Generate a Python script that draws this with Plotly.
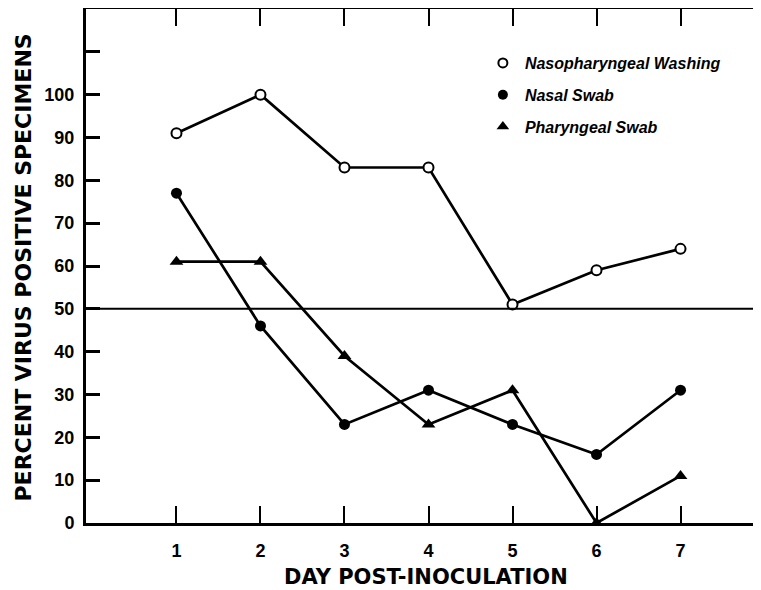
import plotly.graph_objects as go

# ---- data ----
days = [1, 2, 3, 4, 5, 6, 7]
nasopharyngeal_washing = [91, 100, 83, 83, 51, 59, 64]
nasal_swab = [77, 46, 23, 31, 23, 16, 31]
pharyngeal_swab = [61, 61, 39, 23, 31, 0, 11]
series_names = ["Nasopharyngeal Washing", "Nasal Swab", "Pharyngeal Swab"]
x_tick_labels = ["1", "2", "3", "4", "5", "6", "7"]
y_tick_values = [0, 10, 20, 30, 40, 50, 60, 70, 80, 90, 100, 110, 120]
y_tick_labels = ["0", "10", "20", "30", "40", "50", "60", "70", "80", "90", "100", "", ""]
right_tick_values = [10, 20, 30, 40, 50, 60, 70, 80, 90, 100, 110]
reference_level = 50
x_title = "DAY POST-INOCULATION"
y_title = "PERCENT VIRUS POSITIVE SPECIMENS"

# the page body adds an 8px margin, so the figure is sized / placed to compensate
OFF = 8
W, H = 761 - OFF, 590 - OFF
L, R, T = 86 - OFF, 0, 9 - OFF
BOTTOM = 523 - OFF
B = H - BOTTOM
X_RANGE = [-0.077, 7.958]
Y_RANGE = [0, 120]
PW, PH = W - L - R, H - T - B

LINE_W = 2.7
series = [
    (nasopharyngeal_washing, dict(symbol="circle", size=10, color="white",
                                  line=dict(color="black", width=2))),
    (nasal_swab, dict(symbol="circle", size=11, color="black",
                      line=dict(color="black", width=0))),
    (pharyngeal_swab, dict(symbol="triangle-up", size=12, color="black",
                           line=dict(color="black", width=0))),
]

fig = go.Figure()
for i, (vals, mk) in enumerate(series):
    fig.add_trace(go.Scatter(
        x=days, y=vals, mode="lines+markers",
        line=dict(color="black", width=LINE_W),
        marker=mk, showlegend=False, cliponaxis=False,
        name=series_names[i],
    ))
# legend-only entries (marker only, as in the reference)
legend_markers = [
    dict(symbol="circle", size=9, color="white", line=dict(color="black", width=2)),
    dict(symbol="circle", size=10, color="black", line=dict(width=0)),
    dict(symbol="triangle-up", size=11, color="black", line=dict(width=0)),
]
for i, mk in enumerate(legend_markers):
    fig.add_trace(go.Scatter(
        x=[None], y=[None], mode="markers", marker=mk,
        name=series_names[i], legendgroup=f"g{i}", showlegend=True,
    ))

fig.add_shape(type="line", xref="paper", yref="y", x0=0, x1=1,
              y0=reference_level, y1=reference_level,
              line=dict(color="black", width=2))

tick_font = dict(family="Liberation Sans", size=18, color="black", weight="bold")
xtitle_font = dict(family="DejaVu Sans", size=21, color="black", weight="bold")
ytitle_font = dict(family="DejaVu Sans", size=22, color="black", weight="bold")

fig.update_layout(
    width=W, height=H,
    margin=dict(l=L, r=R, t=T, b=B, pad=0),
    paper_bgcolor="white", plot_bgcolor="white",
    showlegend=True,
    legend=dict(
        x=0.585, y=0.928, xanchor="left", yanchor="top",
        font=dict(family="Liberation Sans", size=16, color="black",
                  style="italic", weight="bold"),
        bgcolor="rgba(0,0,0,0)", tracegroupgap=8, itemwidth=34,
    ),
    xaxis=dict(
        range=X_RANGE, tickvals=days, ticktext=x_tick_labels,
        ticks="inside", ticklen=17, tickwidth=2, tickcolor="black",
        showline=True, linewidth=2.5, linecolor="black", mirror="ticks",
        showgrid=False, zeroline=False, tickfont=tick_font,
        ticklabelstandoff=10, automargin=False,
    ),
    yaxis=dict(
        range=Y_RANGE, tickvals=y_tick_values, ticktext=y_tick_labels,
        ticks="inside", ticklen=14, tickwidth=2.5, tickcolor="black",
        showline=True, linewidth=3, linecolor="black",
        showgrid=False, zeroline=False, tickfont=tick_font,
        ticklabelstandoff=5, automargin=False,
    ),
    yaxis2=dict(
        range=Y_RANGE, overlaying="y", side="right", anchor="x",
        tickvals=right_tick_values, showticklabels=False,
        ticks="inside", ticklen=9, tickwidth=2.5, tickcolor="black",
        showline=False, showgrid=False, zeroline=False, automargin=False,
    ),
    annotations=[
        dict(text=x_title, xref="paper", yref="paper",
             x=(426 - OFF - L) / PW, y=(523 - 577) / PH,
             xanchor="center", yanchor="middle", showarrow=False,
             font=xtitle_font),
        dict(text=y_title, xref="paper", yref="paper",
             x=(22.5 - OFF - L) / PW, y=(523 - 268) / PH,
             xanchor="center", yanchor="middle", showarrow=False,
             textangle=-90, font=ytitle_font),
    ],
)

fig.write_html("out.html")
